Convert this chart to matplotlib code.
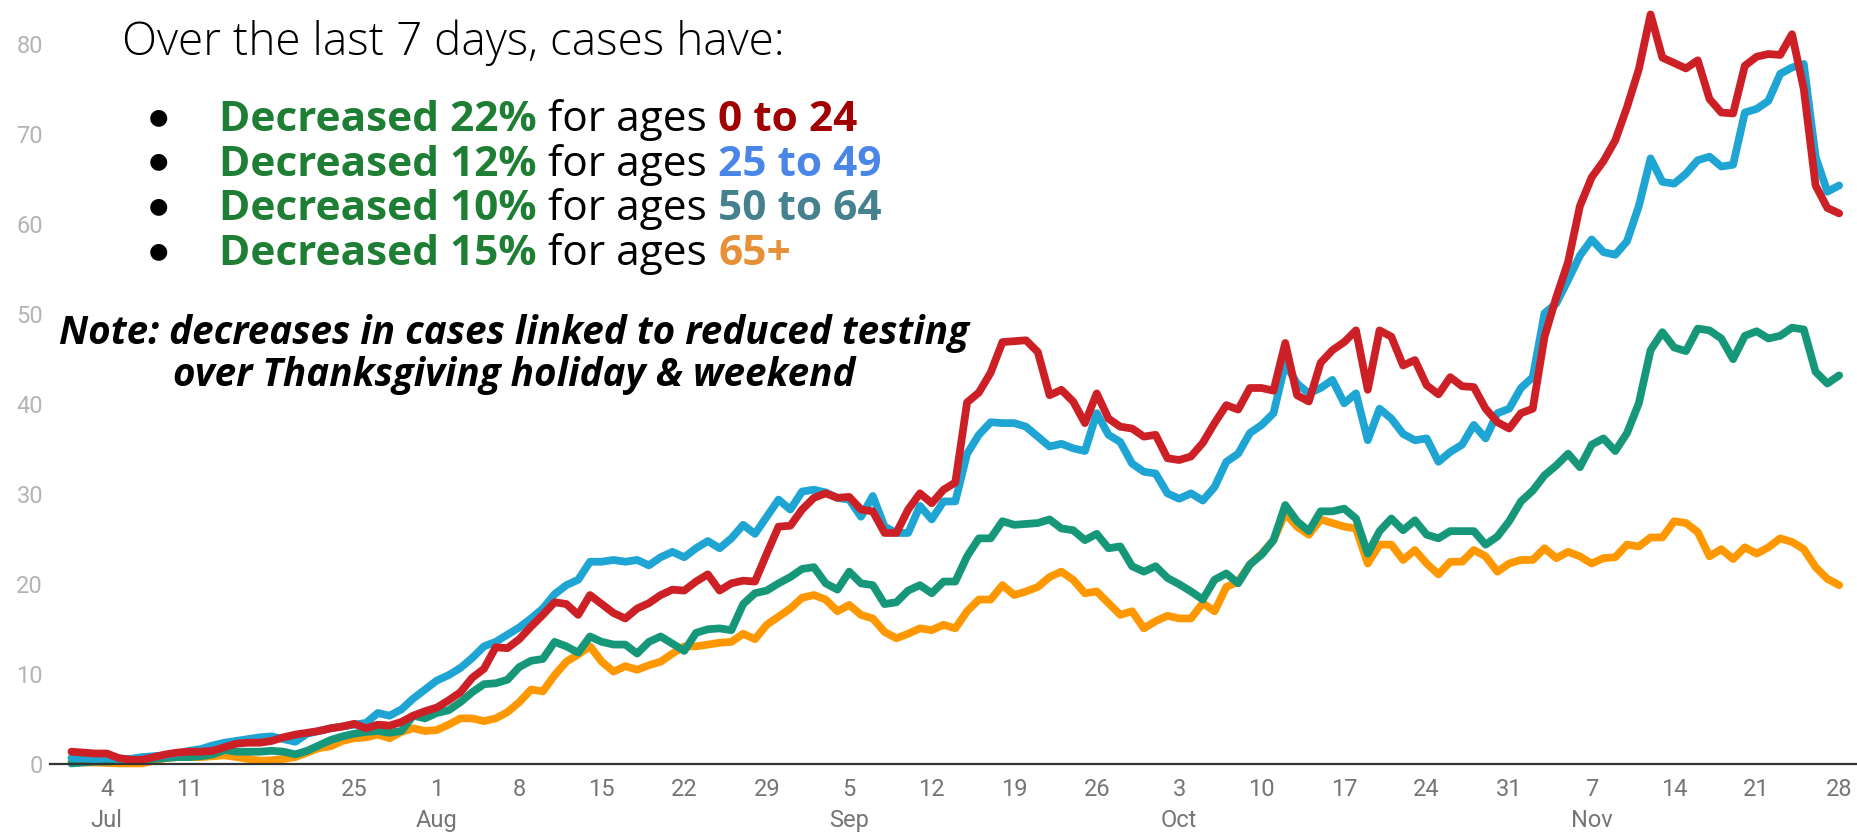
import matplotlib
matplotlib.use("Agg")
import matplotlib.pyplot as plt
import pandas as pd

# daily values, Jul 1 - Nov 28 2020
dates = pd.date_range("2020-07-01", "2020-11-28", freq="D")

ages_0_24 = [
    1.4, 1.3, 1.2, 1.2, 0.7, 0.5, 0.5, 0.8, 1.1, 1.3,
    1.4, 1.4, 1.5, 1.9, 2.3, 2.4, 2.4, 2.6, 3.0, 3.3,
    3.5, 3.7, 4.0, 4.2, 4.5, 4.0, 4.4, 4.3, 4.7, 5.4,
    5.9, 6.3, 7.1, 8.0, 9.6, 10.6, 13.0, 12.9, 13.9, 15.3,
    16.6, 18.0, 17.8, 16.6, 18.8, 17.8, 16.8, 16.2, 17.3, 17.9,
    18.8, 19.4, 19.3, 20.3, 21.1, 19.3, 20.1, 20.4, 20.3, 23.4,
    26.4, 26.5, 28.3, 29.6, 30.1, 29.6, 29.7, 28.3, 28.1, 25.7,
    25.7, 28.3, 30.1, 29.0, 30.5, 31.3, 40.2, 41.3, 43.5, 46.9,
    47.0, 47.1, 45.8, 41.0, 41.6, 40.3, 37.9, 41.2, 38.4, 37.5,
    37.3, 36.4, 36.6, 34.0, 33.8, 34.2, 35.7, 37.9, 39.9, 39.4,
    41.8, 41.8, 41.5, 46.8, 41.0, 40.3, 44.6, 46.0, 46.9, 48.2,
    41.6, 48.2, 47.5, 44.3, 44.9, 42.1, 41.1, 43.0, 42.0, 41.9,
    39.5, 38.0, 37.3, 39.0, 39.5, 47.5, 51.9, 55.8, 62.0, 65.2,
    67.0, 69.3, 73.0, 77.2, 83.3, 78.5, 77.9, 77.3, 78.2, 73.9,
    72.4, 72.3, 77.6, 78.6, 78.9, 78.8, 81.1, 75.0, 64.3, 61.8,
    61.2,
]
ages_25_49 = [
    0.7, 0.7, 0.6, 0.7, 0.6, 0.6, 0.8, 0.9, 1.0, 1.2,
    1.5, 1.7, 2.1, 2.4, 2.6, 2.8, 3.0, 3.1, 2.8, 2.5,
    3.4, 3.7, 4.0, 4.2, 4.4, 4.6, 5.7, 5.4, 6.1, 7.3,
    8.3, 9.3, 9.9, 10.7, 11.8, 13.1, 13.6, 14.4, 15.2, 16.2,
    17.3, 18.9, 19.9, 20.5, 22.5, 22.5, 22.7, 22.5, 22.7, 22.1,
    23.0, 23.6, 23.0, 24.0, 24.8, 24.0, 25.1, 26.6, 25.6, 27.5,
    29.4, 28.3, 30.3, 30.5, 30.2, 29.6, 29.4, 27.5, 29.8, 26.4,
    25.7, 25.7, 28.7, 27.2, 29.2, 29.2, 34.5, 36.6, 38.0, 37.9,
    37.9, 37.5, 36.4, 35.3, 35.6, 35.1, 34.8, 39.0, 36.6, 35.8,
    33.4, 32.5, 32.3, 30.1, 29.5, 30.1, 29.3, 30.8, 33.6, 34.5,
    36.8, 37.7, 39.0, 44.5, 42.3, 41.2, 41.8, 42.7, 40.1, 41.2,
    36.0, 39.5, 38.4, 36.7, 36.0, 36.2, 33.6, 34.7, 35.5, 37.7,
    36.2, 39.0, 39.5, 41.8, 43.0, 50.1, 51.2, 53.8, 56.5, 58.3,
    56.9, 56.6, 58.1, 62.0, 67.3, 64.7, 64.5, 65.6, 67.1, 67.5,
    66.4, 66.6, 72.4, 72.8, 73.7, 76.7, 77.4, 77.8, 67.5, 63.6,
    64.3,
]
ages_50_64 = [
    0.1, 0.2, 0.3, 0.3, 0.4, 0.45, 0.5, 0.6, 0.7, 0.8,
    0.8, 0.9, 1.1, 1.6, 1.4, 1.4, 1.4, 1.5, 1.4, 1.1,
    1.5, 2.1, 2.7, 3.1, 3.4, 3.6, 3.7, 3.5, 3.7, 5.4,
    5.1, 5.7, 6.0, 6.9, 8.0, 8.9, 9.0, 9.4, 10.8, 11.5,
    11.7, 13.6, 13.1, 12.4, 14.2, 13.6, 13.3, 13.3, 12.3, 13.6,
    14.2, 13.4, 12.6, 14.6, 15.0, 15.1, 14.9, 17.8, 19.0, 19.3,
    20.1, 20.8, 21.7, 21.9, 20.1, 19.4, 21.4, 20.1, 19.9, 17.8,
    18.0, 19.3, 19.9, 19.0, 20.3, 20.3, 23.1, 25.1, 25.1, 27.0,
    26.6, 26.7, 26.8, 27.2, 26.2, 26.0, 24.9, 25.6, 24.0, 24.2,
    22.0, 21.4, 22.0, 20.7, 20.0, 19.2, 18.3, 20.5, 21.2, 20.1,
    22.2, 23.3, 24.9, 28.8, 27.0, 25.9, 28.1, 28.1, 28.4, 27.3,
    23.4, 25.9, 27.3, 26.0, 27.1, 25.5, 25.1, 25.9, 25.9, 25.9,
    24.4, 25.3, 27.0, 29.2, 30.4, 32.1, 33.2, 34.5, 33.0, 35.5,
    36.2, 34.8, 36.8, 40.1, 46.0, 48.0, 46.3, 45.9, 48.4, 48.2,
    47.3, 45.0, 47.6, 48.1, 47.3, 47.6, 48.5, 48.3, 43.6, 42.3,
    43.2,
]
ages_65_plus = [
    0.3, 0.2, 0.2, 0.15, 0.1, 0.1, 0.1, 0.4, 0.7, 0.8,
    0.8, 0.8, 0.9, 1.0, 0.8, 0.6, 0.4, 0.45, 0.6, 0.8,
    1.3, 1.8, 2.0, 2.6, 2.9, 3.0, 3.3, 2.9, 3.6, 4.0,
    3.7, 3.8, 4.4, 5.1, 5.1, 4.8, 5.1, 5.8, 6.9, 8.3,
    8.1, 9.9, 11.4, 12.2, 13.1, 11.4, 10.3, 10.9, 10.5, 11.0,
    11.4, 12.3, 13.1, 13.1, 13.3, 13.5, 13.6, 14.5, 13.9, 15.5,
    16.4, 17.3, 18.5, 18.8, 18.3, 17.0, 17.7, 16.6, 16.2, 14.7,
    14.0, 14.5, 15.1, 14.9, 15.5, 15.1, 17.0, 18.3, 18.3, 19.9,
    18.8, 19.2, 19.7, 20.8, 21.4, 20.5, 19.0, 19.2, 17.9, 16.6,
    17.0, 15.1, 15.9, 16.5, 16.2, 16.2, 17.9, 17.0, 19.7, 20.3,
    22.2, 23.4, 24.9, 27.9, 26.4, 25.5, 27.2, 26.8, 26.4, 26.2,
    22.3, 24.4, 24.4, 22.7, 23.8, 22.3, 21.1, 22.5, 22.5, 23.8,
    23.1, 21.4, 22.3, 22.7, 22.7, 24.0, 22.9, 23.6, 23.1, 22.3,
    22.9, 23.0, 24.4, 24.2, 25.2, 25.2, 27.0, 26.8, 25.8, 23.1,
    23.9, 22.8, 24.1, 23.4, 24.1, 25.1, 24.7, 23.9, 21.9, 20.6,
    19.9,
]

tick_dates = pd.date_range("2020-07-04", "2020-11-28", freq="7D")
y_ticks = [0, 10, 20, 30, 40, 50, 60, 70, 80]

bullets = [
    ("22%", "0 to 24", "#a00000"),
    ("12%", "25 to 49", "#4a86e8"),
    ("10%", "50 to 64", "#45818e"),
    ("15%", "65+", "#e69138"),
]

W, H = 1858, 834
FONT = "Open Sans"
TEXT_GREEN = "#1e7e34"

fig = plt.figure(figsize=(W / 100, H / 100), dpi=100)
ax = fig.add_axes([50 / W, 69.7 / H, (W - 50) / W, 764.3 / H])

series = [
    (ages_65_plus, "#ff9800"),
    (ages_50_64, "#17977a"),
    (ages_25_49, "#1ea5d4"),
    (ages_0_24, "#cd2026"),
]
for vals, col in series:
    ax.plot(dates, vals, color=col, linewidth=5.6, solid_joinstyle="round",
            solid_capstyle="round", clip_on=False)

ax.set_ylim(0, 84.9)
ax.set_xlim(dates[0] - pd.Timedelta(days=1.82), dates[-1] + pd.Timedelta(days=1.6))

# day numbers, month name under the first tick of each month
labels = []
prev_month = None
for d in tick_dates:
    if d.month != prev_month:
        labels.append(f"{d.day}\n{d.strftime('%b')}")
        prev_month = d.month
    else:
        labels.append(str(d.day))
ax.set_xticks(tick_dates)
ax.set_xticklabels(labels, linespacing=1.45, family="Roboto", fontsize=17, color="#757575")
ax.set_yticks(y_ticks)
ax.set_yticklabels([str(v) for v in y_ticks], family="Roboto", fontsize=17, color="#b4b4b4")
ax.tick_params(axis="x", length=0, pad=10)
ax.tick_params(axis="y", length=0, pad=5)

for s in ["top", "right", "left"]:
    ax.spines[s].set_visible(False)
ax.spines["bottom"].set_linewidth(1.6)
ax.spines["bottom"].set_color("#333333")
ax.set_facecolor("none")


def put(x, y, s, **kw):
    return fig.text(x / W, 1 - y / H, s, **kw)


renderer = fig.canvas.get_renderer()

put(122, 55, "Over the last 7 days, cases have:", family=FONT, fontweight="light",
    fontsize=33, color="black", va="baseline")

row_size = 30.5
gap = row_size * 1.389 * 0.27
for i, (pct, ages, col) in enumerate(bullets):
    base = 131 + i * 44.6
    put(158, base - 8, "\u25cf", family="DejaVu Sans", fontsize=16, ha="center",
        va="baseline", color="black")
    x = 219
    for txt, c, w in [(f"Decreased {pct}", TEXT_GREEN, "bold"),
                      ("for ages", "black", "normal"),
                      (ages, col, "bold")]:
        t = put(x, base, txt, family=FONT, fontweight=w, fontsize=row_size,
                color=c, va="baseline")
        x = t.get_window_extent(renderer).x1 + gap

put(514, 344, "Note: decreases in cases linked to reduced testing", family=FONT,
    fontweight="bold", fontstyle="italic", fontsize=27.8, ha="center", va="baseline")
put(514, 386, "over Thanksgiving holiday & weekend", family=FONT,
    fontweight="bold", fontstyle="italic", fontsize=27.8, ha="center", va="baseline")

fig.savefig("out.png", dpi=100)
